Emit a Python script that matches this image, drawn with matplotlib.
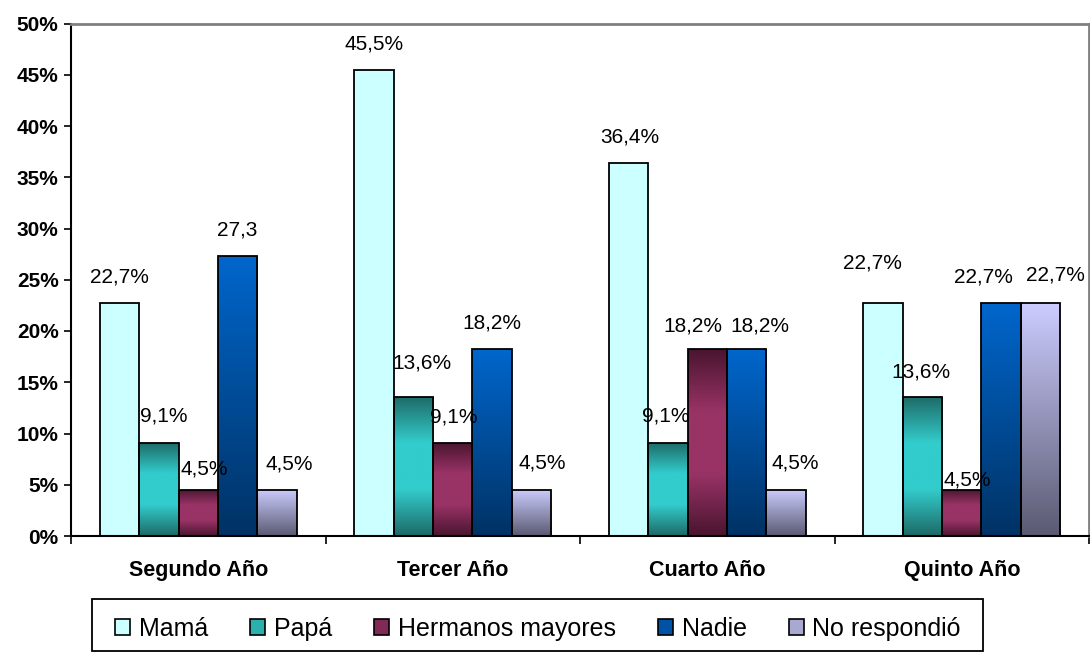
import numpy as np
import matplotlib
matplotlib.use("Agg")
import matplotlib.pyplot as plt
from matplotlib.colors import LinearSegmentedColormap
from matplotlib.patches import Patch, Rectangle

plt.rcParams['font.family'] = ['Liberation Sans', 'DejaVu Sans']

# ---- data ----
categories = ["Segundo Año", "Tercer Año", "Cuarto Año", "Quinto Año"]
series_names = ["Mamá", "Papá", "Hermanos mayores", "Nadie", "No respondió"]
mama = [22.7, 45.5, 36.4, 22.7]
papa = [9.1, 13.6, 9.1, 13.6]
hermanos = [4.5, 9.1, 18.2, 4.5]
nadie = [27.3, 18.2, 18.2, 22.7]
no_respondio = [4.5, 4.5, 4.5, 22.7]
label_mama = ["22,7%", "45,5%", "36,4%", "22,7%"]
label_papa = ["9,1%", "13,6%", "9,1%", "13,6%"]
label_hermanos = ["4,5%", "9,1%", "18,2%", "4,5%"]
label_nadie = ["27,3", "18,2%", "18,2%", "22,7%"]
label_no_resp = ["4,5%", "4,5%", "4,5%", "22,7%"]
yticks = [0, 5, 10, 15, 20, 25, 30, 35, 40, 45, 50]
ytick_labels = ["0%", "5%", "10%", "15%", "20%", "25%", "30%", "35%", "40%", "45%", "50%"]

series = [mama, papa, hermanos, nadie, no_respondio]
labels = [label_mama, label_papa, label_hermanos, label_nadie, label_no_resp]

# ---- styles ----
# gradient stops top -> bottom
gradients = [
    ["#CCFFFF", "#CCFFFF"],
    ["#1D6A66", "#33CCCC", "#33CCCC", "#1D6A66"],
    ["#4A1530", "#993366", "#993366", "#4A1530"],
    ["#0066CC", "#003264"],
    ["#CCCCFF", "#5A5A72"],
]
legend_colors = ["#CCFFFF", "#2BB0AC", "#802A55", "#0052A6", "#A8A8D0"]

# per-label nudges in pixels (dx, dy) relative to default position
nudges = [
    [(0, 0), (0, 0), (1, 0), (-11, 14)],
    [(5, 1), (9, 8), (-2, 1), (-1, -1)],
    [(6, -5), (1, 0), (-14, -3), (5, -16)],
    [(0, 0), (0, 0), (13, -3), (-18, 0)],
    [(12, 0), (11, 1), (9, 1), (15, 2)],
]

W, H, DPI = 1090, 652, 100
fig = plt.figure(figsize=(W / DPI, H / DPI), dpi=DPI)
ax = fig.add_axes([71 / W, (H - 536) / H, (1089 - 71) / W, (536 - 23.5) / H])

x = np.arange(len(categories))
bw = 0.1545
px2pt = 72 / DPI

for i, (vals, grad, labs, nud) in enumerate(zip(series, gradients, labels, nudges)):
    xs = x + (i - 2) * bw
    bars = ax.bar(xs, vals, width=bw, facecolor="none", edgecolor="black",
                  linewidth=1.3, zorder=3)
    cmap = LinearSegmentedColormap.from_list(f"g{i}", grad[::-1])
    img = np.linspace(0, 1, 256).reshape(-1, 1)
    for b, v in zip(bars, vals):
        x0 = b.get_x()
        im = ax.imshow(img, cmap=cmap, aspect="auto", origin="lower",
                       extent=[x0, x0 + bw, 0, v], zorder=2, interpolation="bilinear")
        im.set_clip_path(b)
    for xi, v, t, (dx, dy) in zip(xs, vals, labs, nud):
        ax.annotate(t, (xi, v), xytext=(dx * px2pt, (26 + dy) * px2pt),
                    textcoords="offset points", ha="center", va="center",
                    fontsize=15, color="black", zorder=5)

ax.set_xlim(-0.5, len(categories) - 0.5)
ax.set_ylim(0, 50)

ax.set_yticks(yticks)
ax.set_yticklabels(ytick_labels, fontsize=15, fontweight="bold")
ax.tick_params(axis="y", length=5, width=1.2, pad=4, direction="out")

ax.set_xticks(x)
ax.set_xticklabels(categories, fontsize=15.5, fontweight="bold")
ax.set_xticks(np.arange(-0.5, len(categories)), minor=True)
ax.tick_params(axis="x", which="major", length=0, pad=17)
ax.tick_params(axis="x", which="minor", length=6, width=1.2, direction="out")

for s in ["left", "bottom"]:
    ax.spines[s].set_color("black")
    ax.spines[s].set_linewidth(1.5)
for s in ["top", "right"]:
    ax.spines[s].set_color("#808080")
    ax.spines[s].set_linewidth(2)

# legend frame
fig.patches.append(Rectangle((92 / W, 1.5 / H), (983 - 92) / W, (650.5 - 599) / H,
                             transform=fig.transFigure, facecolor="white",
                             edgecolor="black", linewidth=1.3, zorder=0))

handles = [Patch(facecolor=c, edgecolor="black", linewidth=1.2) for c in legend_colors]
leg = fig.legend(handles, series_names, loc="center left", ncol=5,
                 bbox_to_anchor=(115 / W, (H - 629) / H),
                 fontsize=18, frameon=False,
                 handlelength=0.6, handleheight=0.6, handletextpad=0.35,
                 columnspacing=1.68, borderpad=0, borderaxespad=0)

fig.savefig("out.png", dpi=DPI)
